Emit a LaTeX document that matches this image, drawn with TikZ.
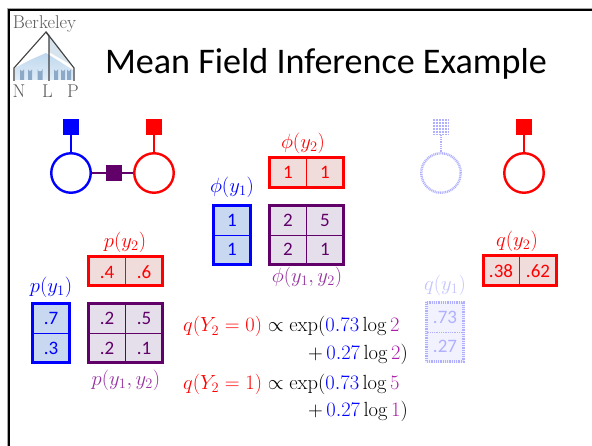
\documentclass[tikz,border=0pt]{standalone}
\usepackage{fix-cm}
\usepackage[no-math]{fontspec}
\newfontfamily\cali{Carlito}
\definecolor{nodeblue}{RGB}{0,0,255}
\definecolor{nodered}{RGB}{255,0,0}
\definecolor{nodepurple}{RGB}{96,0,104}
\definecolor{cellblue}{RGB}{200,216,240}
\definecolor{cellred}{RGB}{241,220,220}
\definecolor{cellpurple}{RGB}{229,223,236}
\definecolor{fadeblue}{RGB}{176,176,255}
\definecolor{labpurple}{RGB}{150,50,160}
\definecolor{mathpurple}{RGB}{170,30,170}
\definecolor{logoblue}{RGB}{190,215,238}
\definecolor{logoarch}{RGB}{140,170,200}
\definecolor{logoroof}{RGB}{215,228,238}
\tikzset{
  x=1pt,y=-1pt,
  var/.style={circle,draw,line width=2.4pt,minimum size=39.5pt,inner sep=0pt},
  factor/.style={rectangle,minimum size=16pt,inner sep=0pt},
  link/.style={line width=1.4pt},
  fadedash/.style={dash pattern=on 1pt off .8pt},
  tabframe/.style={line width=3pt},
  cellline/.style={line width=.7pt},
  celltxt/.style={font=\cali\fontsize{19}{20}\selectfont,inner sep=0pt},
  lab/.style={font=\fontsize{20.6}{22}\selectfont,inner sep=0pt},
  eqn/.style={font=\fontsize{20.5}{22}\selectfont,anchor=base west,inner sep=0pt},
  logotxt/.style={font=\fontsize{18.5}{19}\selectfont,text=black!65,inner sep=0pt}
}
\begin{document}
\begin{tikzpicture}
\useasboundingbox (0,0) rectangle (592,446);
\fill[white] (0,0) rectangle (592,446);
% frame
\draw[line width=.8pt,black!35] (7,446) -- (7,8.5) -- (592,8.5);
\draw[line width=2.4pt,black] (9,446) -- (9,10) -- (592,10);
% logo
\shade[top color=logoblue,bottom color=logoblue!45!white] (15,68) -- (30,60) -- (46,53) -- (73,70) -- (73,80) -- (15,80) -- cycle;
\fill[logoroof] (49,34) -- (73,66) -- (49,52) -- cycle;
\foreach \ax/\aw in {22/4,30/4,40/5,56/4,63/4,69/4}
  \fill[logoarch] (\ax-\aw/2,80) -- (\ax-\aw/2,69) arc[start angle=180,end angle=0,radius=\aw/2] -- (\ax+\aw/2,80) -- cycle;
\draw[line width=1.1pt,black!75] (14,81) -- (14,68) -- (46,32) -- (74,68) -- (74,81);
\draw[line width=1.3pt,black!75] (46,32) -- (49,36) -- (49,81);
\node[logotxt] (lb) at (44.5,23.5) {Berkeley};
\node[logotxt] (ln) at (19,91) {N};
\node[logotxt] (ll) at (47.5,91) {L};
\node[logotxt] (lp) at (73,91) {P};
% title
\node[inner sep=0pt,font=\cali\fontsize{36.1}{38}\selectfont] (title) at (326,64) {Mean Field Inference Example};
% graph left
\node[var,draw=nodeblue] (y1) at (71,173) {};
\node[var,draw=nodered] (y2) at (154,173) {};
\node[factor,fill=nodeblue] (f1) at (71,127) {};
\node[factor,fill=nodered] (f2) at (154,127) {};
\node[factor,fill=nodepurple] (f12) at (114,173) {};
\draw[link,nodeblue] (f1) -- (y1);
\draw[link,nodered] (f2) -- (y2);
\draw[link,nodepurple] (y1) -- (f12);
\draw[link,nodepurple] (f12) -- (y2);
% graph right
\node[factor,fill=fadeblue] (qf1) at (441,127) {};
\foreach \d in {-6,-3,...,6}{
  \draw[white,line width=.45pt] (441+\d,119) -- (441+\d,135);
  \draw[white,line width=.45pt] (433,127+\d) -- (449,127+\d);
}
\node[var,draw=fadeblue,fadedash] (qy1) at (441,173) {};
\draw[link,fadeblue,fadedash] (qf1) -- (qy1);
\node[var,draw=nodered] (qy2) at (524,173) {};
\node[factor,fill=nodered] (qf2) at (524,127) {};
\draw[link,nodered] (qf2) -- (qy2);
% phi tables
\filldraw[fill=cellred,draw=nodered,tabframe] (269.5,157.5) rectangle (343.5,187.5);
\draw[cellline,nodered] (306.5,157.5) -- (306.5,187.5);
\node[celltxt,text=nodered] (a1) at (288,172.5) {1};
\node[celltxt,text=nodered] (a2) at (325,172.5) {1};
\node[lab,text=nodered] (phiy2) at (303,143) {$\phi(y_2)$};
\filldraw[fill=cellblue,draw=nodeblue,tabframe] (213.5,205.5) rectangle (250.5,264.5);
\draw[cellline,nodeblue] (213.5,235) -- (250.5,235);
\node[celltxt,text=nodeblue] (b1) at (232,220.5) {1};
\node[celltxt,text=nodeblue] (b2) at (232,249.5) {1};
\node[lab,text=nodeblue] (phiy1) at (232,187) {$\phi(y_1)$};
\filldraw[fill=cellpurple,draw=nodepurple,tabframe] (269.5,205.5) rectangle (343.5,264.5);
\draw[cellline,nodepurple] (306.5,205.5) -- (306.5,264.5) (269.5,235) -- (343.5,235);
\node[celltxt,text=nodepurple] (c1) at (288,220.5) {2};
\node[celltxt,text=nodepurple] (c2) at (325,220.5) {5};
\node[celltxt,text=nodepurple] (c3) at (288,249.5) {2};
\node[celltxt,text=nodepurple] (c4) at (325,249.5) {1};
\node[lab,text=labpurple] (phiy12) at (307,277) {$\phi(y_1,y_2)$};
% p tables
\filldraw[fill=cellred,draw=nodered,tabframe] (88.5,256.5) rectangle (162.5,285.5);
\draw[cellline,nodered] (125.5,256.5) -- (125.5,285.5);
\node[celltxt,text=nodered] (d1) at (107,272) {.4};
\node[celltxt,text=nodered] (d2) at (144,272) {.6};
\node[lab,text=nodered] (py2) at (125,242) {$p(y_2)$};
\filldraw[fill=cellblue,draw=nodeblue,tabframe] (32.5,303.5) rectangle (69.5,362.5);
\draw[cellline,nodeblue] (32.5,333) -- (69.5,333);
\node[celltxt,text=nodeblue] (e1) at (51,318.5) {.7};
\node[celltxt,text=nodeblue] (e2) at (51,348) {.3};
\node[lab,text=nodeblue] (py1) at (51,287) {$p(y_1)$};
\filldraw[fill=cellpurple,draw=nodepurple,tabframe] (88.5,303.5) rectangle (162.5,362.5);
\draw[cellline,nodepurple] (125.5,303.5) -- (125.5,362.5) (88.5,333) -- (162.5,333);
\node[celltxt,text=nodepurple] (g1) at (107,318.5) {.2};
\node[celltxt,text=nodepurple] (g2) at (144,318.5) {.5};
\node[celltxt,text=nodepurple] (g3) at (107,348) {.2};
\node[celltxt,text=nodepurple] (g4) at (144,348) {.1};
\node[lab,text=labpurple] (py12) at (126,380) {$p(y_1,y_2)$};
% q tables
\filldraw[fill=cellred,draw=nodered,tabframe] (483.5,255.5) rectangle (556.5,285.5);
\draw[cellline,nodered] (519.5,255.5) -- (519.5,285.5);
\node[celltxt,text=nodered] (h1) at (501,271) {.38};
\node[celltxt,text=nodered] (h2) at (538,271) {.62};
\node[lab,text=nodered] (qy2l) at (517,241) {$q(y_2)$};
\fill[blue!5] (425,301) rectangle (465,363);
\draw[fadeblue,line width=3pt,dash pattern=on 1pt off .8pt] (426.5,302.5) rectangle (463.5,361.5);
\draw[fadeblue,line width=.6pt,fadedash] (426.5,332) -- (463.5,332);
\node[celltxt,text=fadeblue] (k1) at (445,317) {.73};
\node[celltxt,text=fadeblue] (k2) at (445,346.5) {.27};
\node[lab,text=fadeblue!75] (qy1l) at (445,285) {$q(y_1)$};
% equations
\node[eqn] (eq1) at (183,332) {$\textcolor{nodered}{q(Y_2=0)}\propto\exp(\textcolor{nodeblue}{0.73}\log\textcolor{mathpurple}{2}$};
\node[eqn] (eq2) at (308,359.5) {$+\,\textcolor{nodeblue}{0.27}\log\textcolor{mathpurple}{2})$};
\node[eqn] (eq3) at (183,389) {$\textcolor{nodered}{q(Y_2=1)}\propto\exp(\textcolor{nodeblue}{0.73}\log\textcolor{mathpurple}{5}$};
\node[eqn] (eq4) at (308,417) {$+\,\textcolor{nodeblue}{0.27}\log\textcolor{mathpurple}{1})$};
\end{tikzpicture}
\end{document}
